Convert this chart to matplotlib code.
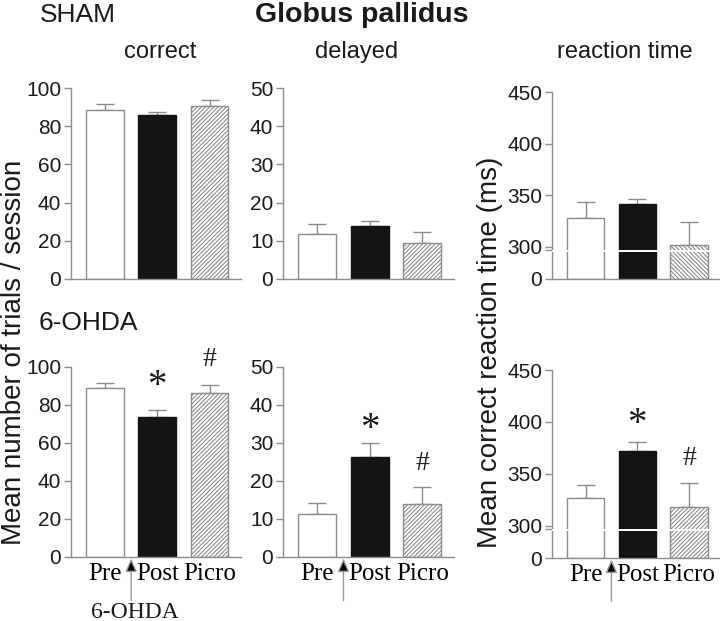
import numpy as np
import matplotlib
matplotlib.use('Agg')
import matplotlib.pyplot as plt
import matplotlib.transforms as mtransforms

plt.rcParams['font.family'] = ['Liberation Sans', 'DejaVu Sans']
plt.rcParams['hatch.linewidth'] = 0.8

# data
phases = ['Pre', 'Post', 'Picro']

sham_correct = [88.5, 86.1, 90.8]
sham_correct_err = [3.0, 1.4, 3.1]
sham_delayed = [11.7, 13.8, 9.3]
sham_delayed_err = [2.8, 1.5, 3.1]
sham_rt = [328.4, 341.3, 302.3]
sham_rt_err = [15.5, 5.5, 22.2]

ohda_correct = [88.9, 73.7, 86.3]
ohda_correct_err = [2.7, 3.8, 4.4]
ohda_delayed = [11.4, 26.3, 13.9]
ohda_delayed_err = [2.7, 3.8, 4.4]
ohda_rt = [326.5, 372.0, 318.4]
ohda_rt_err = [12.5, 8.6, 22.6]

# significance marks: (bar index, y, symbol)
ohda_marks = {
    'correct': [(1, 95.0, '*'), (2, 104.0, '#')],
    'delayed': [(1, 36.0, '*'), (2, 24.5, '#')],
    'rt': [(1, 407.0, '*'), (2, 365.0, '#')],
}

GREY = '#8c8c8c'
K = 31.0  # room given to 0-300 ms on the broken axis


def fwd(v):
    v = np.asarray(v, dtype=float)
    return np.where(v < 300, v * K / 300.0, v - 300.0 + K)


def inv(y):
    y = np.asarray(y, dtype=float)
    return np.where(y < K, y * 300.0 / K, y + 300.0 - K)


fig = plt.figure(figsize=(7.2, 6.21), dpi=100)
W, H = 720.0, 621.0


def rect(x0, x1, ytop, ybot):
    return [x0 / W, 1 - ybot / H, (x1 - x0) / W, (ybot - ytop) / H]


def draw_panel(ax, vals, errs, ymax, step, rt=False, picro_hatch='////////', xlabels=False):
    x = np.arange(3)
    ax.bar(x[0], vals[0], 0.72, color='white', edgecolor=GREY, linewidth=1, zorder=2)
    ax.bar(x[1], vals[1], 0.72, color='#141414', edgecolor='#141414', linewidth=1, zorder=2)
    ax.bar(x[2], vals[2], 0.72, color='white', edgecolor=GREY, hatch=picro_hatch,
           linewidth=1, zorder=2)
    ax.errorbar(x, vals, yerr=[np.zeros(3), errs], fmt='none', ecolor=GREY,
                elinewidth=1, capsize=6.5, capthick=1, zorder=1)
    if rt:
        ax.set_yscale('function', functions=(fwd, inv))
        ax.set_ylim(0, ymax)
        ax.set_yticks([0, 300, 350, 400, 450])
        ax.set_yticks([272], minor=True)
        ax.tick_params(axis='y', which='minor', length=5, color=GREY, width=1)
        ax.axhspan(250, 274, color='white', zorder=3, lw=0)
    else:
        ax.set_ylim(0, ymax)
        ax.set_yticks(np.arange(0, ymax + 1, step))
    ax.set_xlim(-0.65, 2.6)
    for s in ['top', 'right']:
        ax.spines[s].set_visible(False)
    for s in ['left', 'bottom']:
        ax.spines[s].set_color(GREY)
        ax.spines[s].set_linewidth(1)
    ax.tick_params(axis='y', which='major', length=5, color=GREY, width=1,
                   labelsize=15, pad=2, labelcolor='#1a1a1a')
    ax.tick_params(axis='x', length=0)
    if xlabels:
        ax.set_xticks(x)
        ax.set_xticklabels(phases, family='Liberation Serif', fontsize=18)
        ax.tick_params(axis='x', pad=4)
        trans = mtransforms.blended_transform_factory(ax.transData, ax.transAxes)
        ax.annotate('', xy=(0.5, -0.008), xytext=(0.5, -0.23), xycoords=trans,
                    textcoords=trans,
                    arrowprops=dict(arrowstyle='-|>,head_length=0.8,head_width=0.35',
                                    fc='black', ec='#999999', lw=1,
                                    shrinkA=0, shrinkB=0))
    else:
        ax.set_xticks([])


ax1 = fig.add_axes(rect(71, 241, 88, 279))
draw_panel(ax1, sham_correct, sham_correct_err, 100, 20)
ax2 = fig.add_axes(rect(283, 454, 88, 279))
draw_panel(ax2, sham_delayed, sham_delayed_err, 50, 10)
ax3 = fig.add_axes(rect(552, 720, 92, 279))
draw_panel(ax3, sham_rt, sham_rt_err, 450, 50, rt=True, picro_hatch='\\\\\\\\\\\\\\\\')

ax4 = fig.add_axes(rect(71, 241, 367, 557))
draw_panel(ax4, ohda_correct, ohda_correct_err, 100, 20, xlabels=True)
ax5 = fig.add_axes(rect(283, 454, 367, 557))
draw_panel(ax5, ohda_delayed, ohda_delayed_err, 50, 10, xlabels=True)
ax6 = fig.add_axes(rect(552, 720, 370, 558))
draw_panel(ax6, ohda_rt, ohda_rt_err, 450, 50, rt=True, xlabels=True)

for ax, key in [(ax4, 'correct'), (ax5, 'delayed'), (ax6, 'rt')]:
    for i, y, sym in ohda_marks[key]:
        if sym == '*':
            ax.annotate(sym, (i, y), xytext=(0, -7), textcoords='offset points',
                        ha='center', va='center', fontsize=28,
                        family='Liberation Serif', color='#1a1a1a', annotation_clip=False)
        else:
            ax.annotate(sym, (i, y), xytext=(0, 0), textcoords='offset points',
                        ha='center', va='center', fontsize=20,
                        family='Liberation Serif', color='#1a1a1a', annotation_clip=False)

# titles and labels
fig.text(40 / W, 1 - 15 / H, 'SHAM', fontsize=19, ha='left', va='center', color='#1a1a1a')
fig.text(39 / W, 1 - 323 / H, '6-OHDA', fontsize=19, ha='left', va='center', color='#1a1a1a')
fig.text(362 / W, 1 - 15 / H, 'Globus pallidus', fontsize=20.5, fontweight='bold',
         ha='center', va='center', color='#1a1a1a')
fig.text(160 / W, 1 - 52 / H, 'correct', fontsize=17, ha='center', va='center', color='#1a1a1a')
fig.text(357 / W, 1 - 52 / H, 'delayed', fontsize=17, ha='center', va='center', color='#1a1a1a')
fig.text(625 / W, 1 - 52 / H, 'reaction time', fontsize=17, ha='center', va='center', color='#1a1a1a')
fig.text(14 / W, 1 - 352 / H, 'Mean number of trials / session', fontsize=20,
         rotation=90, ha='center', va='center', color='#1a1a1a')
fig.text(490 / W, 1 - 352 / H, 'Mean correct reaction time (ms)', fontsize=20,
         rotation=90, ha='center', va='center', color='#1a1a1a')
fig.text(135 / W, 1 - 612 / H, '6-OHDA', fontsize=17, family='Liberation Serif',
         ha='center', va='center', color='#1a1a1a')

fig.savefig('out.png', dpi=100)
